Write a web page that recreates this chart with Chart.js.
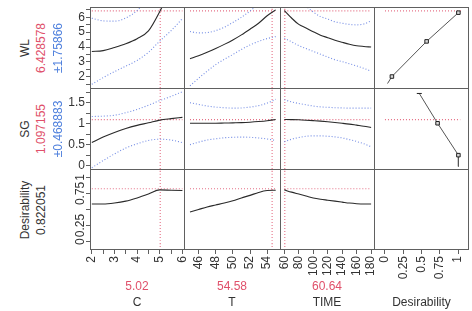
<!DOCTYPE html>
<html><head><meta charset="utf-8">
<script src="https://cdn.jsdelivr.net/npm/chart.js@4/dist/chart.umd.min.js"></script>
<style>
html,body{margin:0;padding:0;background:#fff;}
#wrap{position:relative;width:472px;height:311px;overflow:hidden;font-family:"Liberation Sans",Arial,sans-serif;background:#fff;}
canvas{position:absolute;}
.lbl{position:absolute;font-size:12px;white-space:nowrap;line-height:12px;color:#333;}
.rot{transform:translate(-50%,-50%) rotate(-90deg);}
.ctr{transform:translate(-50%,-50%);}
</style></head><body><div id="wrap"></div>
<script>
// ---------- data ----------
const C_GRID = [2,2.5,3,3.5,4,4.5,5,5.5,6];
const T_GRID = [45,46,47,48,49,50,51,52,53,54,55];
const TIME_GRID = [60,70,80,90,100,110,120,130,140,150,160,170,180];

const WL_C    = [3.70,3.76,3.97,4.22,4.56,5.08,6.38,8.0,9.9];
const WL_C_HI = [5.94,5.76,5.74,5.95,6.45,7.3,8.4,9.6,11.0];
const WL_C_LO = [1.5,1.95,2.35,2.72,3.1,3.65,4.4,5.1,5.92];
const WL_T    = [3.22,3.42,3.65,3.9,4.18,4.48,4.82,5.2,5.6,6.1,6.5];
const WL_T_HI = [5.04,4.95,4.97,5.1,5.33,5.65,6.0,6.42,6.9,7.4,8.0];
const WL_T_LO = [1.4,1.9,2.38,2.82,3.17,3.5,3.84,4.14,4.38,4.57,4.7];
const WL_TIME    = [6.45,5.95,5.52,5.28,5.03,4.8,4.63,4.46,4.32,4.19,4.09,4.04,4.0];
const WL_TIME_HI = [8.5,7.8,7.2,6.75,6.35,6.05,5.88,5.7,5.6,5.52,5.49,5.55,5.76];
const WL_TIME_LO = [4.6,4.35,4.1,3.9,3.71,3.52,3.33,3.15,3.02,2.88,2.73,2.57,2.38];

const SG_C    = [0.55,0.68,0.79,0.885,0.96,1.02,1.085,1.12,1.15];
const SG_C_HI = [1.17,1.18,1.2,1.26,1.34,1.44,1.55,1.65,1.76];
const SG_C_LO = [-0.05,0.12,0.28,0.42,0.52,0.6,0.63,0.61,0.55];
const SG_T    = [1.01,1.01,1.01,1.01,1.015,1.02,1.025,1.035,1.05,1.07,1.10];
const SG_T_HI = [1.5,1.46,1.42,1.395,1.38,1.37,1.375,1.395,1.43,1.49,1.58];
const SG_T_LO = [0.5,0.56,0.61,0.64,0.665,0.675,0.68,0.675,0.66,0.635,0.6];
const SG_TIME    = [1.10,1.097,1.092,1.083,1.072,1.06,1.045,1.028,1.01,0.99,0.965,0.94,0.91];
const SG_TIME_HI = [1.57,1.52,1.48,1.45,1.42,1.40,1.39,1.38,1.375,1.37,1.37,1.37,1.37];
const SG_TIME_LO = [0.57,0.63,0.67,0.70,0.71,0.71,0.70,0.685,0.66,0.62,0.575,0.52,0.45];

const D_C    = [0.585,0.585,0.6,0.63,0.68,0.74,0.805,0.80,0.795];
const D_T    = [0.46,0.50,0.54,0.57,0.60,0.635,0.68,0.72,0.765,0.795,0.80];
const D_TIME = [0.805,0.77,0.74,0.71,0.68,0.66,0.645,0.63,0.615,0.60,0.59,0.585,0.585];

// desirability functions (x = desirability, y = response)
const WL_DES_X = [0.035,0.095,0.57,1.005];
const WL_DES_Y = [1.55,2.02,4.38,6.31];
const SG_DES_X = [0.47,0.72,1.005,1.005];
const SG_DES_Y = [1.72,1.01,0.25,-0.02];
const DES_LINE_END = [1.04,1.03];

const CURRENT_X = [5.02,54.58,60.64];
const CURRENT_Y = [6.428578,1.097155,0.822051];
const CURRENT_X_TXT = ['5.02','54.58','60.64'];
const CURRENT_Y_TXT = ['6.428578','1.097155','0.822051'];
const CI_TXT = ['\u00b11.75866','\u00b10.468883'];

const X_NAMES = ['C','T','TIME','Desirability'];
const Y_NAMES = ['WL','SG','Desirability'];
const X_RANGES = [[1.92,6.07],[44.3,55.5],[54,184],[-0.15,1.15]];
const Y_RANGES = [[1.25,6.69],[-0.08,1.85],[-0.13,1.13]];
const X_TICKS = [[2,3,4,5,6],[46,48,50,52,54],[60,80,100,120,140,160,180],[0,0.25,0.5,0.75,1]];
const X_MINOR = [[2.5,3.5,4.5,5.5],[],[],[]];
const Y_TICKS = [[2,3,4,5,6],[0,0.5,1,1.5],[0,0.25,0.5,0.75,1]];
const Y_MINOR = [[1.5,2.5,3.5,4.5,5.5,6.5],[0.25,0.75,1.25,1.75],[]];
const D_Y_LABELS = [0,0.25,0.75,1];

// ---------- styles / layout ----------
const COL_X = [90,184,280,374,469];
const ROW_Y = [7,88,169,250];
const EXTRA_LEFT = 30, EXTRA_BOTTOM = 32, SIDE = 8;
const FRAME = '#606060';
const RED_LINE = 'rgba(228,104,128,0.95)';
const BLUE_LINE = 'rgba(110,135,228,0.95)';
const RED_TXT = '#e0506a', BLUE_TXT = '#4f80dd';
const FONT = '"Liberation Sans", Arial, sans-serif';

Chart.defaults.font.family = FONT;
Chart.defaults.font.size = 12;
Chart.defaults.color = '#333';

const GRIDS = [C_GRID, T_GRID, TIME_GRID];
const MEAN = [[WL_C,WL_T,WL_TIME],[SG_C,SG_T,SG_TIME],[D_C,D_T,D_TIME]];
const HI = [[WL_C_HI,WL_T_HI,WL_TIME_HI],[SG_C_HI,SG_T_HI,SG_TIME_HI]];
const LO = [[WL_C_LO,WL_T_LO,WL_TIME_LO],[SG_C_LO,SG_T_LO,SG_TIME_LO]];

const framePlugin = {
  id:'frame',
  afterDraw(chart, args, o){
    const {ctx, chartArea:a} = chart;
    ctx.save(); ctx.strokeStyle = FRAME; ctx.lineWidth = 1; ctx.beginPath();
    if(o.left){ctx.moveTo(a.left+0.5,a.top);ctx.lineTo(a.left+0.5,a.bottom);}
    if(o.top){ctx.moveTo(a.left,a.top+0.5);ctx.lineTo(a.right,a.top+0.5);}
    if(o.right){ctx.moveTo(a.right-0.5,a.top);ctx.lineTo(a.right-0.5,a.bottom);}
    if(o.bottom){ctx.moveTo(a.left,a.bottom-0.5);ctx.lineTo(a.right,a.bottom-0.5);}
    ctx.stroke(); ctx.restore();
  }
};
const rotYPlugin = {
  id:'rotY',
  afterDraw(chart, args, o){
    if(!o.on) return;
    const s = chart.scales.y, ctx = chart.ctx;
    ctx.save(); ctx.fillStyle = '#333'; ctx.font = '12px ' + FONT;
    ctx.textAlign = 'center'; ctx.textBaseline = 'alphabetic';
    o.values.forEach(v => {
      const y = s.getPixelForValue(v);
      ctx.save(); ctx.translate(s.right - 6, y); ctx.rotate(-Math.PI/2);
      ctx.fillText(String(v), 0, 0); ctx.restore();
    });
    ctx.restore();
  }
};

function pts(xs, ys){ return xs.map((x,i)=>({x, y:ys[i]})); }
function curve(xs, ys, color, dash, width){
  return {data:pts(xs,ys), borderColor:color, borderWidth:width||1, borderDash:dash||[],
    pointRadius:0, fill:false, cubicInterpolationMode:'monotone'};
}
function zeroPad(s){ s.paddingTop = 0; s.paddingBottom = 0; s.paddingLeft = 0; s.paddingRight = 0; }

const wrap = document.getElementById('wrap');
function addLabel(text, x, y, color, rot){
  const d = document.createElement('div');
  d.className = 'lbl ' + (rot ? 'rot' : 'ctr');
  d.textContent = text; d.style.left = x + 'px'; d.style.top = y + 'px';
  if(color) d.style.color = color;
  wrap.appendChild(d);
}

for(let r=0;r<3;r++){
  for(let c=0;c<4;c++){
    const isLeft = c===0, isBottom = r===2;
    const padL = isLeft ? 0 : SIDE, padR = SIDE;
    const x0 = COL_X[c] - (isLeft?EXTRA_LEFT:0) - padL;
    const w = COL_X[c+1]-COL_X[c] + (isLeft?EXTRA_LEFT:0) + padL + padR;
    const h = ROW_Y[r+1]-ROW_Y[r] + (isBottom?EXTRA_BOTTOM:0);
    const cv = document.createElement('canvas');
    cv.width = w; cv.height = h;
    cv.style.left = x0+'px'; cv.style.top = ROW_Y[r]+'px';
    cv.style.width = w+'px'; cv.style.height = h+'px';
    wrap.appendChild(cv);

    const yR = Y_RANGES[r], xR = X_RANGES[c];
    const ds = [];
    if(c<3){
      const g = GRIDS[c];
      ds.push(curve(g, MEAN[r][c], '#2a2a2a', [], 1.1));
      if(r<2){
        ds.push(curve(g, HI[r][c], BLUE_LINE, [1,2], 1.1));
        ds.push(curve(g, LO[r][c], BLUE_LINE, [1,2], 1.1));
      }
      ds.push(curve([g[0], g[g.length-1]], [CURRENT_Y[r], CURRENT_Y[r]], RED_LINE, [1,2], 1.1));
      ds.push(curve([CURRENT_X[c], CURRENT_X[c]], [yR[0], yR[1]], RED_LINE, [1,2], 1.1));
    } else if(r<2){
      const dx = r===0 ? WL_DES_X : SG_DES_X, dy = r===0 ? WL_DES_Y : SG_DES_Y;
      const styles = r===0 ? ['circle','rect','rect','rect'] : ['line','rect','rect','circle'];
      const radii = r===0 ? [0,2.5,2.5,2.5] : [2.5,2.5,2.5,0];
      ds.push({data:pts(dx,dy), borderColor:'#555', borderWidth:1, fill:false, tension:0,
        pointStyle:styles, pointRadius:radii, pointBorderColor:'#222', pointBackgroundColor:'#d8d8d8', pointBorderWidth:1});
      ds.push(curve([0, DES_LINE_END[r]], [CURRENT_Y[r], CURRENT_Y[r]], RED_LINE, [1,2], 1.1));
    }

    const xTickVals = [...X_TICKS[c], ...X_MINOR[c]].sort((a,b)=>a-b);
    const yTickVals = [...Y_TICKS[r], ...Y_MINOR[r]].sort((a,b)=>a-b);
    new Chart(cv, {
      type:'line',
      data:{datasets:ds},
      plugins:[framePlugin, rotYPlugin],
      options:{
        responsive:false, animation:false, devicePixelRatio:1,
        layout:{padding:{left:padL, right:padR, top:0, bottom:0}, autoPadding:false},
        plugins:{legend:{display:false}, tooltip:{enabled:false},
          frame:{left:true, top:true, right:c===3, bottom:r===2},
          rotY:{on:isLeft && r===2, values:D_Y_LABELS}},
        scales:{
          x:{type:'linear', min:xR[0], max:xR[1], display:isBottom, position:'bottom',
            afterFit(s){ s.height = isBottom ? EXTRA_BOTTOM : 0; zeroPad(s); },
            afterBuildTicks(s){ s.ticks = xTickVals.map(v=>({value:v})); },
            ticks:{autoSkip:false, minRotation:90, maxRotation:90, padding:2, color:'#333',
              callback:(v)=> X_TICKS[c].includes(v) ? String(v) : ''},
            grid:{drawOnChartArea:false, drawTicks:true, tickLength:4, color:FRAME},
            border:{display:false}},
          y:{type:'linear', min:yR[0], max:yR[1], display:isLeft, position:'left',
            afterFit(s){ s.width = isLeft ? EXTRA_LEFT : 0; zeroPad(s); },
            afterBuildTicks(s){ s.ticks = yTickVals.map(v=>({value:v})); },
            ticks:{display:r!==2, autoSkip:false, padding:1, color:'#333',
              callback:(v)=> Y_TICKS[r].includes(v) ? String(v) : ''},
            grid:{drawOnChartArea:false, drawTicks:true, tickLength:4, color:FRAME},
            border:{display:false}}
        }
      }
    });
  }
}

// axis titles
for(let r=0;r<3;r++){
  const cy = (ROW_Y[r]+ROW_Y[r+1])/2;
  addLabel(Y_NAMES[r], 25, cy, '#333', true);
  addLabel(CURRENT_Y_TXT[r], 41, cy, r<2 ? RED_TXT : '#333', true);
  if(r<2) addLabel(CI_TXT[r], 57.5, cy, BLUE_TXT, true);
}
for(let c=0;c<4;c++){
  const cx = (COL_X[c]+COL_X[c+1])/2;
  if(c<3) addLabel(CURRENT_X_TXT[c], cx, 286, RED_TXT, false);
  addLabel(X_NAMES[c], cx, 302, '#333', false);
}
</script></body></html>
